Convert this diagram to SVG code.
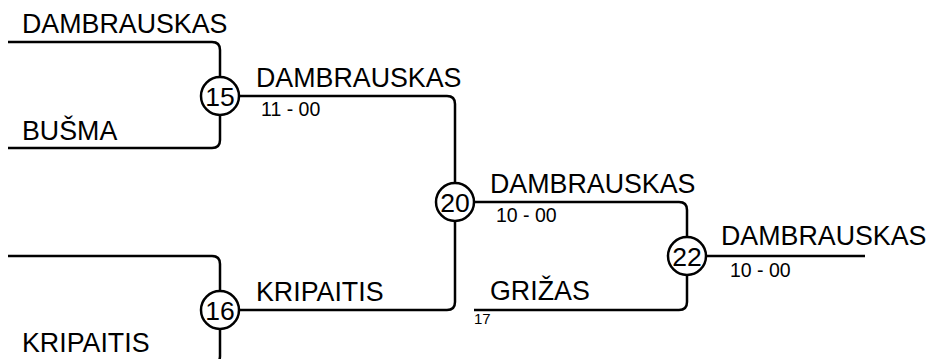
<svg xmlns="http://www.w3.org/2000/svg" width="931" height="359" viewBox="0 0 931 359">
<style>
.ln{fill:none;stroke:#000;stroke-width:2.5}
.c{fill:#fff;stroke:#000;stroke-width:2.5}
.num{font-family:"Liberation Sans",Arial,sans-serif;font-size:26.5px;fill:#000;text-anchor:middle}
.nm{font-family:"Liberation Sans",Arial,sans-serif;font-size:26.8px;fill:#000}
.sc{font-family:"Liberation Sans",Arial,sans-serif;font-size:19.5px;fill:#000}
.sm{font-family:"Liberation Sans",Arial,sans-serif;font-size:15px;fill:#000}
</style>
<rect width="931" height="359" fill="#fff"/>
<g id="connectors">
<path class="ln" d="M8,42 H212 Q220,42 220,50 V77"/>
<path class="ln" d="M8,148 H212 Q220,148 220,140 V115"/>
<path class="ln" d="M239,96 H447 Q455,96 455,104 V183"/>
<path class="ln" d="M8,256 H212 Q220,256 220,264 V291"/>
<path class="ln" d="M8,364 H212 Q220,364 220,356 V329"/>
<path class="ln" d="M239,310 H447 Q455,310 455,302 V221"/>
<path class="ln" d="M474,202 H679 Q687,202 687,210 V237"/>
<path class="ln" d="M474,310 H679 Q687,310 687,302 V275"/>
<path class="ln" d="M706,256 H865"/>
</g>
<g id="p-dambrauskas-1"><text class="nm" x="22" y="33">DAMBRAUSKAS</text></g>
<g id="p-busma"><text class="nm" x="22" y="140">BUŠMA</text></g>
<g id="p-kripaitis-2"><text class="nm" x="22" y="352">KRIPAITIS</text></g>
<g id="m15">
<circle class="c" cx="220" cy="96" r="19"/>
<text class="num" x="220" y="105.5">15</text>
</g>
<g id="w15"><text class="nm" x="256" y="87">DAMBRAUSKAS</text><text class="sc" x="261" y="116">11 - 00</text></g>
<g id="m16">
<circle class="c" cx="220" cy="310" r="19"/>
<text class="num" x="220" y="319.5">16</text>
</g>
<g id="w16"><text class="nm" x="256" y="301">KRIPAITIS</text></g>
<g id="m20">
<circle class="c" cx="455" cy="202" r="19"/>
<text class="num" x="455" y="211.5">20</text>
</g>
<g id="w20"><text class="nm" x="490" y="193">DAMBRAUSKAS</text><text class="sc" x="496" y="222">10 - 00</text></g>
<g id="p-grizas"><text class="nm" x="490" y="300">GRIŽAS</text><text class="sm" x="474" y="324">17</text></g>
<g id="m22">
<circle class="c" cx="687" cy="256" r="19"/>
<text class="num" x="687" y="265.5">22</text>
</g>
<g id="w22"><text class="nm" x="721" y="245">DAMBRAUSKAS</text><text class="sc" x="730" y="277">10 - 00</text></g>
</svg>
